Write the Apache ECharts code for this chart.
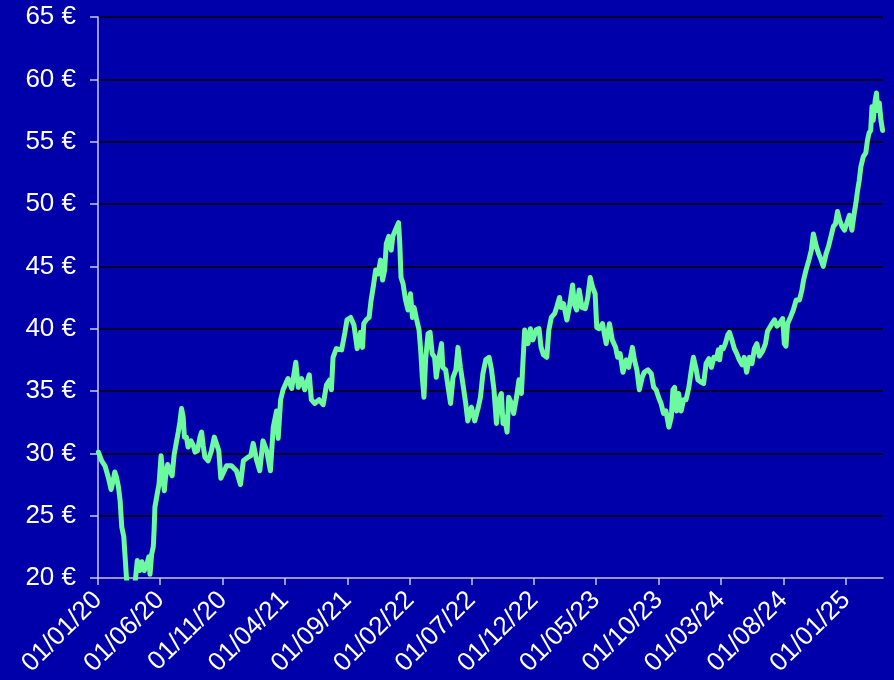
<!DOCTYPE html>
<html>
<head>
<meta charset="utf-8">
<script src="https://cdn.jsdelivr.net/npm/echarts@6/dist/echarts.min.js"></script>
<style>
html,body{margin:0;padding:0;background:#0000AA;}
#chart{width:894px;height:680px;}
</style>
</head>
<body>
<div id="chart"></div>
<script>
const dates = [
'2020-01-02','2020-01-10','2020-01-18','2020-01-26','2020-02-02','2020-02-07','2020-02-11','2020-02-15','2020-02-20','2020-02-24',
'2020-02-28','2020-03-04','2020-03-11','2020-03-18','2020-03-26','2020-04-02','2020-04-06','2020-04-12','2020-04-17','2020-04-23',
'2020-04-29','2020-05-04','2020-05-07','2020-05-11','2020-05-15','2020-05-17','2020-05-19','2020-05-26','2020-05-29','2020-06-03',
'2020-06-07','2020-06-11','2020-06-14','2020-06-19','2020-06-25','2020-06-30','2020-07-05','2020-07-11','2020-07-15','2020-07-19',
'2020-07-23','2020-07-27','2020-07-30','2020-08-04','2020-08-08','2020-08-15','2020-08-21','2020-08-25','2020-08-31','2020-09-06',
'2020-09-10','2020-09-14','2020-09-18','2020-09-26','2020-10-04','2020-10-11','2020-10-17','2020-10-22','2020-10-27','2020-11-10',
'2020-11-22','2020-12-04','2020-12-14','2020-12-21',
'2021-01-02','2021-01-08','2021-01-14','2021-01-22','2021-01-30','2021-02-07','2021-02-16','2021-02-25','2021-03-04','2021-03-12',
'2021-03-16','2021-03-22','2021-03-28','2021-04-09','2021-04-18','2021-04-28','2021-05-04','2021-05-12','2021-05-20','2021-05-31',
'2021-06-05','2021-06-13','2021-06-24','2021-07-04','2021-07-12','2021-07-20','2021-07-24','2021-07-28','2021-08-05','2021-08-18',
'2021-08-26','2021-08-31','2021-09-09','2021-09-17','2021-09-25','2021-10-03','2021-10-08','2021-10-11','2021-10-17','2021-10-24',
'2021-10-29','2021-11-03','2021-11-09','2021-11-15','2021-11-21','2021-11-26','2021-12-01','2021-12-05','2021-12-11','2021-12-17',
'2021-12-21','2021-12-27',
'2022-01-04','2022-01-07','2022-01-10','2022-01-15','2022-01-21','2022-01-27','2022-02-02','2022-02-07','2022-02-11','2022-02-16',
'2022-02-23','2022-02-27','2022-03-03','2022-03-07','2022-03-11','2022-03-17','2022-03-22','2022-03-27','2022-04-02','2022-04-06',
'2022-04-13','2022-04-19','2022-04-22','2022-04-29','2022-05-05','2022-05-11','2022-05-17','2022-05-24','2022-05-29','2022-06-04',
'2022-06-10','2022-06-17','2022-06-22','2022-07-01','2022-07-09','2022-07-17','2022-07-23','2022-07-29','2022-08-05','2022-08-13',
'2022-08-19','2022-08-25','2022-08-31','2022-09-06','2022-09-12','2022-09-16','2022-09-20','2022-09-26','2022-09-30','2022-10-07',
'2022-10-12','2022-10-19','2022-10-25','2022-10-31','2022-11-04','2022-11-08','2022-11-16','2022-11-22','2022-11-28','2022-12-06',
'2022-12-13','2022-12-18','2022-12-24',
'2023-01-01','2023-01-06','2023-01-12','2023-01-20','2023-01-25','2023-02-01','2023-02-05','2023-02-11','2023-02-19','2023-02-25',
'2023-03-05','2023-03-09','2023-03-15','2023-03-21','2023-03-28','2023-04-05','2023-04-11','2023-04-17','2023-04-23','2023-04-29',
'2023-05-03','2023-05-09','2023-05-17','2023-05-26','2023-06-03','2023-06-10','2023-06-18','2023-06-23','2023-06-29','2023-07-06',
'2023-07-14','2023-07-20','2023-07-29','2023-08-03','2023-08-09','2023-08-15','2023-08-22','2023-08-27','2023-09-05','2023-09-13',
'2023-09-19','2023-09-25','2023-10-02','2023-10-07','2023-10-13','2023-10-19','2023-10-26','2023-11-01','2023-11-05','2023-11-09',
'2023-11-14','2023-11-19','2023-11-25','2023-12-01','2023-12-07','2023-12-14','2023-12-20','2023-12-25',
'2024-01-01','2024-01-05','2024-01-13','2024-01-19','2024-01-25','2024-02-01','2024-02-07','2024-02-13','2024-02-19','2024-02-24',
'2024-02-27','2024-03-02','2024-03-07','2024-03-12','2024-03-18','2024-03-22','2024-03-28','2024-04-03','2024-04-09','2024-04-15',
'2024-04-22','2024-04-27','2024-05-03','2024-05-10','2024-05-16','2024-05-22','2024-05-28','2024-06-03','2024-06-11','2024-06-18',
'2024-06-23','2024-07-02','2024-07-10','2024-07-16','2024-07-22','2024-07-30','2024-08-03','2024-08-07','2024-08-11','2024-08-19',
'2024-08-25','2024-09-01','2024-09-09','2024-09-15','2024-09-19','2024-09-25','2024-10-02','2024-10-08','2024-10-13','2024-10-20',
'2024-10-26','2024-11-01','2024-11-06','2024-11-13','2024-11-19','2024-11-25','2024-12-01','2024-12-06','2024-12-11','2024-12-16',
'2024-12-22','2024-12-28',
'2025-01-02','2025-01-09','2025-01-15','2025-01-21','2025-01-25','2025-01-29','2025-02-02','2025-02-06','2025-02-12','2025-02-18',
'2025-02-22','2025-02-26','2025-03-02','2025-03-05','2025-03-08','2025-03-13','2025-03-16','2025-03-19','2025-03-23','2025-03-27',
'2025-03-31'
];
const prices = [
30.1,29.4,29.0,28.1,27.1,27.8,28.5,28.1,27.3,26.2,
24.1,23.3,19.8,17.0,18.0,20.1,21.4,20.6,21.3,20.6,
21.1,21.7,20.3,21.9,22.5,23.8,25.7,27.0,27.5,29.8,
29.8,27.0,28.1,29.1,28.6,28.2,29.9,31.0,31.7,32.5,
33.6,32.9,31.3,31.3,30.5,31.0,30.6,30.1,30.2,31.3,
31.7,30.6,29.7,29.4,30.2,31.3,30.7,30.2,28.0,29.0,
29.0,28.6,27.5,29.4,
29.7,29.8,30.8,29.5,28.6,31.0,30.2,28.6,32.1,33.4,
31.2,34.3,35.1,36.0,35.2,37.3,35.3,36.0,35.1,36.3,
34.3,34.0,34.3,33.9,35.5,35.9,35.1,37.7,38.4,38.3,
39.7,40.7,40.9,40.3,38.4,39.7,38.5,40.4,40.7,40.9,
42.3,43.3,44.7,44.4,45.5,43.9,44.7,46.8,47.4,46.3,
47.4,47.9,
48.5,46.8,44.1,43.6,42.3,41.5,42.8,40.9,41.7,40.9,
39.9,38.3,36.1,34.5,37.5,39.6,39.7,38.0,37.7,36.1,
37.7,38.8,36.9,36.7,35.3,34.0,36.1,36.7,38.5,36.9,
35.6,34.0,32.6,33.7,32.6,33.6,34.5,36.4,37.5,37.7,
36.7,35.1,32.4,34.3,34.8,32.4,32.9,31.7,34.5,34.0,
33.2,34.5,35.9,34.8,37.5,39.9,38.8,40.0,39.1,39.9,
40.0,38.5,37.9,
37.7,39.9,40.9,41.2,41.7,42.5,41.7,42.0,40.7,41.7,
43.5,42.0,41.5,43.1,41.7,41.6,42.5,44.1,43.3,42.8,
40.1,40.0,40.4,38.8,40.4,39.1,38.5,37.7,38.0,36.5,
37.5,36.9,38.5,37.5,36.7,35.1,36.1,36.5,36.7,36.4,
35.3,35.1,34.4,34.0,33.2,33.4,32.1,32.9,35.1,35.3,
33.4,34.8,33.4,34.3,34.3,35.3,36.7,37.7,
36.7,35.9,35.7,35.6,37.2,37.6,36.9,37.7,37.6,38.3,
37.5,38.5,38.4,38.8,39.5,39.7,39.1,38.4,38.0,37.5,
37.1,37.7,36.5,37.7,37.2,38.4,38.8,37.8,38.2,38.8,
39.8,40.3,40.7,40.2,40.4,40.8,38.8,38.6,40.4,41.0,
41.5,42.3,42.3,43.1,43.9,44.7,45.5,46.3,47.6,46.6,
46.0,45.5,45.0,46.0,46.6,47.4,48.2,48.4,49.4,48.7,
48.2,47.9,
48.4,49.1,47.9,49.3,50.1,51.1,51.9,53.0,53.8,54.1,
55.1,55.7,55.9,57.8,56.7,58.3,58.9,57.5,58.1,56.7,
55.9
];
const tickDates = ['2020-01-01','2020-06-01','2020-11-01','2021-04-01','2021-09-01','2022-02-01','2022-07-01','2022-12-01','2023-05-01','2023-10-01','2024-03-01','2024-08-01','2025-01-01'];
const axisStart = '2020-01-01';
const axisEnd = '2025-04-01';

function ts(s){const p=s.split('-').map(Number);return new Date(p[0],p[1]-1,p[2]).getTime();}
function pad(n){return (n<10?'0':'')+n;}
function fmt(v){const d=new Date(v);return pad(d.getDate())+'/'+pad(d.getMonth()+1)+'/'+pad(d.getFullYear()%100);}

const chart = echarts.init(document.getElementById('chart'));
const font = 'Liberation Sans, Arial, sans-serif';
const tickTs = tickDates.map(ts);
chart.setOption({
  backgroundColor:'#0000AA',
  animation:false,
  grid:{left:98,right:11,top:17,bottom:102,containLabel:false},
  xAxis:{
    type:'value',
    min:ts(axisStart),max:ts(axisEnd),
    axisLine:{show:true,lineStyle:{color:'#C8C8F0',width:1.5}},
    axisTick:{show:true,length:7,customValues:tickTs,lineStyle:{color:'#C8C8F0',width:1.5}},
    axisLabel:{customValues:tickTs,formatter:fmt,rotate:45,margin:18,color:'#FFFFFF',fontSize:26,fontFamily:font},
    splitLine:{show:false}
  },
  yAxis:{
    type:'value',min:20,max:65,interval:5,
    axisLine:{show:true,lineStyle:{color:'#C8C8F0',width:1.5}},
    axisTick:{show:true,length:8,lineStyle:{color:'#C8C8F0',width:1.5}},
    axisLabel:{formatter:'{value} €',margin:22,color:'#FFFFFF',fontSize:26,fontFamily:font},
    splitLine:{show:true,lineStyle:{color:'#000000',width:1.5}}
  },
  series:[{
    type:'line',
    data:dates.map((d,i)=>[ts(d),prices[i]]),
    showSymbol:false,symbol:'none',
    clip:true,
    lineStyle:{color:'#6CF9A0',width:5,join:'round',cap:'round'}
  }]
});
</script>
</body>
</html>
